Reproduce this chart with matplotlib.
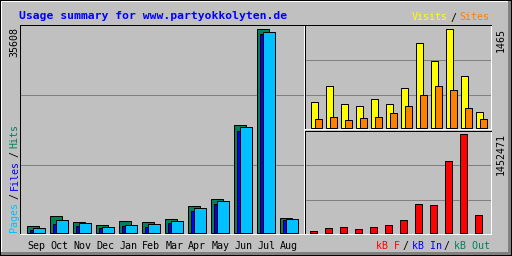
import matplotlib
matplotlib.use("Agg")
import matplotlib.pyplot as plt
from matplotlib.patches import Rectangle
import numpy as np

# ---------------- data ----------------
months = ['Sep', 'Oct', 'Nov', 'Dec', 'Jan', 'Feb', 'Mar', 'Apr', 'May', 'Jun', 'Jul', 'Aug']
hits = [1109, 2860, 1868, 1284, 1985, 1810, 2335, 4611, 5837, 18797, 35608, 2510]
files = [467, 1459, 1109, 759, 1109, 934, 1634, 3736, 4962, 17745, 34732, 2160]
pages = [759, 2160, 1693, 934, 1284, 1459, 1985, 4261, 5487, 18446, 35083, 2335]
visits = [377, 616, 348, 318, 422, 348, 586, 1256, 988, 1465, 765, 228]
sites = [124, 154, 109, 139, 154, 214, 318, 482, 616, 556, 288, 124]
kbytes = [25000, 64007, 78778, 49236, 78778, 108320, 182174, 418508, 403738, 1053657, 1452471, 256029]
title = "Usage summary for www.partyokkolyten.de"

# ---------------- style ----------------
W, H = 512, 256
GRAY = '#C0C0C0'
DKGRAY = '#808080'
C_HITS = '#00805C'
C_FILES = '#0000FF'
C_PAGES = '#00C0FF'
C_VISITS = '#FFFF00'
C_SITES = '#FF8000'
C_KB = '#FF0000'
LW = 0.72  # 1 px
MONO = 'DejaVu Sans Mono'
SMALL = 7.2

fig = plt.figure(figsize=(W / 100, H / 100), dpi=100, facecolor=GRAY)


def prect(x, y, w, h, color):
    fig.add_artist(Rectangle((x / W, 1 - (y + h) / H), w / W, h / H,
                             transform=fig.transFigure, color=color, lw=0))


def pax(x0, y0, x1, y1):
    ax = fig.add_axes([x0 / W, 1 - y1 / H, (x1 - x0) / W, (y1 - y0) / H])
    ax.set_facecolor(GRAY)
    for s in ('top', 'left'):
        ax.spines[s].set_color('black')
        ax.spines[s].set_linewidth(LW)
    for s in ('bottom', 'right'):
        ax.spines[s].set_color('white')
        ax.spines[s].set_linewidth(LW)
    ax.set_yticks([])
    ax.tick_params(axis='x', length=0)
    ax.set_xticks([])
    return ax


def ptext(x, y, s, color='black', **kw):
    kw.setdefault('family', MONO)
    kw.setdefault('fontsize', SMALL)
    fig.text(x / W, 1 - y / H, s, color=color, **kw)


# outer frame
prect(0, 0, W, 1, 'black')
prect(0, 0, 1, H, 'black')
prect(W - 1, 0, 1, H, 'black')
prect(0, H - 1, W, 1, 'black')
prect(1, 1, W - 2, 1, 'white')
prect(1, 1, 1, H - 2, 'white')
prect(W - 4, 1, 3, H - 2, DKGRAY)
prect(1, H - 4, W - 2, 3, DKGRAY)

idx = np.arange(len(months))
ax_bottom_px = {}


def setup_y(ax, y0, base_px, top_px, vmax):
    s = vmax / (base_px - top_px)
    ax.set_ylim(-(ax_bottom_px[ax] - base_px) * s, (base_px - y0) * s)


def grid(ax, y0, y1, pys):
    lo, hi = ax.get_ylim()
    for py in pys:
        frac = (y1 - py) / (y1 - y0)
        ax.axhline(lo + frac * (hi - lo), color=DKGRAY, lw=LW, zorder=0.5)


# ---------------- main panel ----------------
mx0, my0, mx1, my1 = 20, 25, 304, 233.5
axm = pax(mx0, my0, mx1, my1)
ax_bottom_px[axm] = my1
step = 23.0
org = 26.5
axm.set_xlim((mx0 - org) / step, (mx1 - org) / step)
setup_y(axm, my0, 232.5, 29.3, max(hits))
grid(axm, my0, my1, [165.3, 95.3])
bw = 12.5 / step
axm.bar(idx, hits, width=bw, align='edge', color=C_HITS, edgecolor='black', lw=LW, zorder=2)
axm.bar(idx + 3 / step, files, width=bw, align='edge', color=C_FILES, edgecolor='black', lw=LW, zorder=3)
axm.bar(idx + 6 / step, pages, width=bw, align='edge', color=C_PAGES, edgecolor='black', lw=LW, zorder=4)
axm.set_xticks(idx + 9.7 / step)
axm.set_xticklabels(months, family=MONO, fontsize=SMALL)
axm.tick_params(axis='x', length=0, pad=5.6)

# ---------------- visits / sites panel ----------------
rx0, rx1 = 305, 491
ty0, ty1 = 25, 128.5
axt = pax(rx0, ty0, rx1, ty1)
ax_bottom_px[axt] = ty1
rstep = 15.0
orgt = 310.8
axt.set_xlim((rx0 - orgt) / rstep, (rx1 - orgt) / rstep)
setup_y(axt, ty0, 127.5, 29.3, max(visits))
grid(axt, ty0, ty1, [95.3, 60.3])
axt.bar(idx, visits, width=7 / rstep, align='edge', color=C_VISITS, edgecolor='black', lw=LW, zorder=2)
axt.bar(idx + 4 / rstep, sites, width=7 / rstep, align='edge', color=C_SITES, edgecolor='black', lw=LW, zorder=3)

# ---------------- kbytes panel ----------------
by0, by1 = 130.5, 233.5
axb = pax(rx0, by0, rx1, by1)
ax_bottom_px[axb] = by1
orgb = 309.5
axb.set_xlim((rx0 - orgb) / rstep, (rx1 - orgb) / rstep)
setup_y(axb, by0, 232.5, 134.3, max(kbytes))
grid(axb, by0, by1, [200.3, 165.3])
axb.bar(idx, kbytes, width=7 / rstep, align='edge', color=C_KB, edgecolor='black', lw=LW, zorder=2)

# ---------------- texts ----------------
ptext(19.3, 19, title, color='#0000FF', family=MONO, fontsize=8.2, fontweight='bold', ha='left', va='baseline')

ptext(411.7, 20.5, 'Visits', color=C_VISITS, ha='left', va='baseline')
ptext(450.5, 20.5, '/', color='black', ha='left', va='baseline')
ptext(459.3, 20.5, 'Sites', color=C_SITES, ha='left', va='baseline')

ptext(375.7, 249, 'kB F', color=C_KB, ha='left', va='baseline')
ptext(402.5, 249, '/', color='black', ha='left', va='baseline')
ptext(411.7, 249, 'kB In', color=C_FILES, ha='left', va='baseline')
ptext(443.5, 249, '/', color='black', ha='left', va='baseline')
ptext(453.5, 249, 'kB Out', color=C_HITS, ha='left', va='baseline')

ptext(14.5, 27.3, str(max(hits)), rotation=90, ha='center', va='top')
ptext(500.3, 28.3, str(max(visits)), rotation=90, ha='center', va='top')
ptext(500.3, 133.3, str(max(kbytes)), rotation=90, ha='center', va='top')

ptext(14.5, 232.3, 'Pages', color=C_PAGES, rotation=90, ha='center', va='bottom')
ptext(14.5, 199.3, '/', color='black', rotation=90, ha='center', va='bottom')
ptext(14.5, 190.3, 'Files', color=C_FILES, rotation=90, ha='center', va='bottom')
ptext(14.5, 157.3, '/', color='black', rotation=90, ha='center', va='bottom')
ptext(14.5, 148.3, 'Hits', color=C_HITS, rotation=90, ha='center', va='bottom')

fig.savefig('out.png', dpi=100, facecolor=GRAY)
